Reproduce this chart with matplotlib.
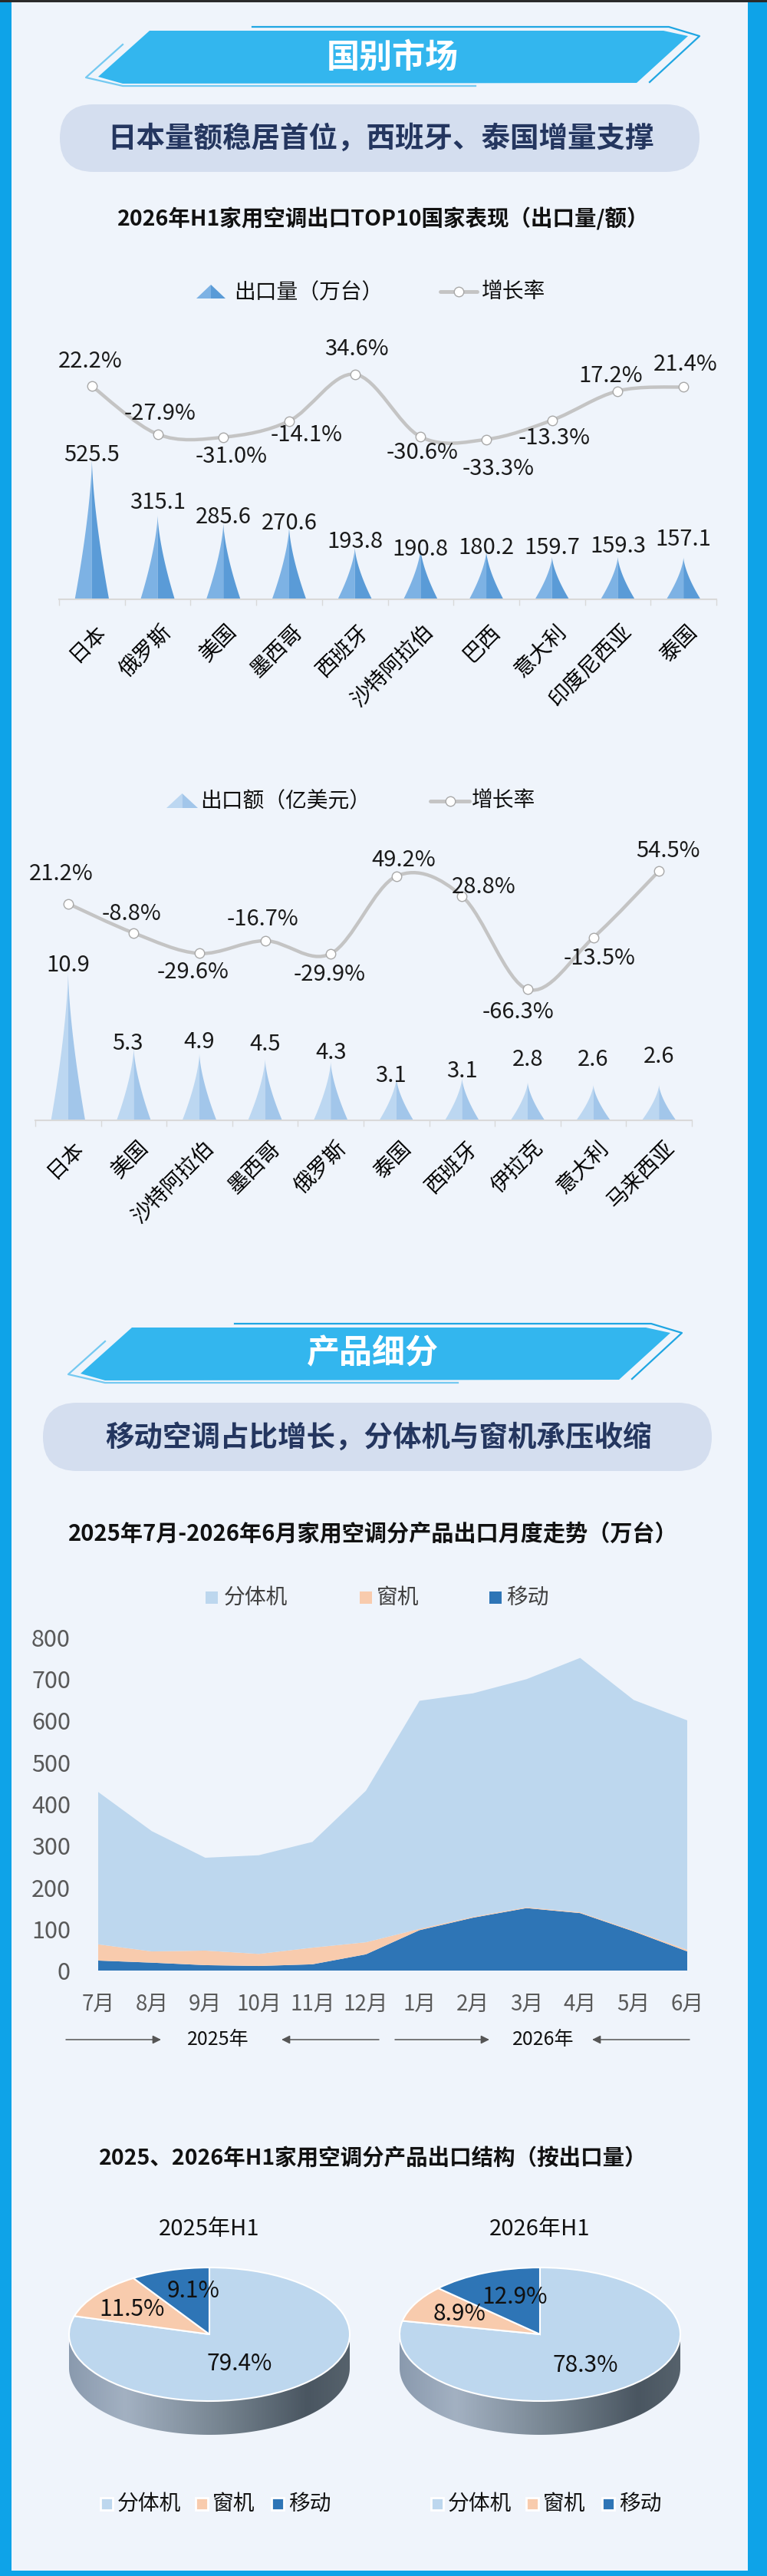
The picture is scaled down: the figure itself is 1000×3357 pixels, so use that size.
import numpy as np
import matplotlib
matplotlib.use("Agg")
import matplotlib.pyplot as plt
from matplotlib.path import Path
from matplotlib.patches import Polygon, FancyBboxPatch, Rectangle, PathPatch
from matplotlib.colors import LinearSegmentedColormap
from matplotlib.transforms import ScaledTranslation

plt.rcParams['font.family'] = ['Noto Sans CJK SC', 'DejaVu Sans']

#%% data
vol_countries = ['日本', '俄罗斯', '美国', '墨西哥', '西班牙', '沙特阿拉伯', '巴西', '意大利', '印度尼西亚', '泰国']
vol_values = [525.5, 315.1, 285.6, 270.6, 193.8, 190.8, 180.2, 159.7, 159.3, 157.1]
vol_growth = [22.2, -27.9, -31.0, -14.1, 34.6, -30.6, -33.3, -13.3, 17.2, 21.4]

val_countries = ['日本', '美国', '沙特阿拉伯', '墨西哥', '俄罗斯', '泰国', '西班牙', '伊拉克', '意大利', '马来西亚']
val_values = [10.9, 5.3, 4.9, 4.5, 4.3, 3.1, 3.1, 2.8, 2.6, 2.6]
val_growth = [21.2, -8.8, -29.6, -16.7, -29.9, 49.2, 28.8, -66.3, -13.5, 54.5]

months = ['7月', '8月', '9月', '10月', '11月', '12月', '1月', '2月', '3月', '4月', '5月', '6月']
split_units = [366, 289, 223, 237, 254, 364, 548, 537, 548, 611, 554, 551]
window_units = [39, 27, 35, 29, 40, 29, 3, 2, 2, 2, 2, 4]
portable_units = [24, 19, 13, 11, 15, 39, 97, 127, 150, 138, 94, 46]

product_names = ['分体机', '窗机', '移动']
share_2025 = [79.4, 11.5, 9.1]
share_2026 = [78.3, 8.9, 12.9]

#%% style
BG = '#eff4fb'
BORDER = '#0ea3e8'
NAVY = '#24365f'
LINE = '#c4c4c4'
C_SPLIT, C_WIN, C_MOB = '#bdd7ee', '#f8cbad', '#2e75b6'
PYR1 = ('#7db2e4', '#5a9bd7')
PYR2 = ('#bcd7f1', '#a2c6ea')

W, H = 1000, 3357
fig = plt.figure(figsize=(W / 100, H / 100), dpi=100)
fig.patch.set_facecolor(BORDER)


def px_axes(x0, y0, x1, y1, z=1):
    ax = fig.add_axes([x0 / W, 1 - y1 / H, (x1 - x0) / W, (y1 - y0) / H], zorder=z)
    ax.set_facecolor('none')
    return ax


ax0 = fig.add_axes([0, 0, 1, 1], zorder=0)
ax0.set_xlim(0, W)
ax0.set_ylim(H, 0)
ax0.axis('off')
ax0.add_patch(Rectangle((15, 3), 960, 3347, fc=BG, ec='none'))
ax0.add_patch(Rectangle((0, 0), W, 3, fc='#2b2b2b', ec='none'))


def banner(dx, dy, text, tx, ty):
    fill = [(195, 40), (865, 40), (897, 47), (830, 108), (160, 109), (128, 100)]
    ax0.add_patch(Polygon([(x + dx, y + dy) for x, y in fill], closed=True, fc='#33b6ee', ec='none'))
    top = np.array([(329, 35), (872, 35), (912, 47), (847, 107)]) + [dx, dy]
    ax0.plot(top[:, 0], top[:, 1], color='#1fa6e2', lw=1.6)
    chev = np.array([(160, 58), (112, 101), (160, 112), (620, 112)]) + [dx, dy]
    ax0.plot(chev[:, 0], chev[:, 1], color='#74c9f1', lw=1.6)
    ax0.text(tx, ty, text, color='white', fontsize=31, fontweight='bold', ha='center', va='center')


def pill(x0, y0, x1, y1, text, tx, ty):
    r = (y1 - y0) / 2
    ax0.add_patch(FancyBboxPatch((x0, y0), x1 - x0, y1 - y0,
                                 boxstyle=f'round,pad=0,rounding_size={r}', fc='#d4deef', ec='none'))
    ax0.text(tx, ty, text, color=NAVY, fontsize=27, fontweight='bold', ha='center', va='center')


def pyramid(ax, xc, h, half_w, colors, p=1.5):
    t = np.linspace(0, 1, 60)
    w = half_w * (1 - t) ** p
    y = t * h
    ax.fill(np.r_[xc - w, xc, xc], np.r_[y, h, 0], color=colors[0], lw=0)
    ax.fill(np.r_[xc + w, xc, xc], np.r_[y, h, 0], color=colors[1], lw=0)


def smooth_path(xs, ys):
    pts = np.column_stack([xs, ys]).astype(float)
    n = len(pts)
    verts, codes = [pts[0]], [Path.MOVETO]
    for i in range(n - 1):
        p0 = pts[i - 1] if i > 0 else pts[i]
        p1, p2 = pts[i], pts[i + 1]
        p3 = pts[i + 2] if i + 2 < n else pts[i + 1]
        verts += [p1 + (p2 - p0) / 6, p2 - (p3 - p1) / 6, p2]
        codes += [Path.CURVE4] * 3
    return Path(verts, codes)


def legend_pyramid(x0, x1, ytop, ybot, colors):
    xm = (x0 + x1) / 2
    ax0.add_patch(Polygon([(x0, ybot), (xm, ytop), (xm, ybot)], fc=colors[0], ec='none'))
    ax0.add_patch(Polygon([(xm, ybot), (xm, ytop), (x1, ybot)], fc=colors[1], ec='none'))


def legend_line(x0, x1, y):
    ax0.plot([x0, x1], [y, y], color=LINE, lw=3.5, solid_capstyle='round')
    ax0.plot([(x0 + x1) / 2], [y], 'o', ms=9, mfc='white', mec='#a9a9a9', mew=1)


def pyramid_chart(box, cats, values, growth, px_per_unit, colors, val_off, gr_off, lab_shift):
    x0, y0, x1, y1 = box
    ax = px_axes(x0, y0, x1, y1)
    x = np.arange(len(cats))
    ax.set_xlim(-0.5, len(cats) - 0.5)
    ax.set_ylim(0, (y1 - y0) / px_per_unit)
    for xi, v in zip(x, values):
        pyramid(ax, xi, v, 0.26, colors)
    for xi, v, (dx, dy) in zip(x, values, val_off):
        ax.annotate(f'{v:.1f}', (xi, v), xytext=(dx * 0.72, -dy * 0.72), textcoords='offset points',
                    ha='center', va='center', fontsize=21, color='#1a1a1a')
    for s in ['top', 'left', 'right']:
        ax.spines[s].set_visible(False)
    ax.spines['bottom'].set_color('#d9d9d9')
    ax.spines['bottom'].set_linewidth(1.5)
    ax.set_yticks([])
    ax.set_xticks(x, cats, rotation=45, ha='right', rotation_mode='anchor', fontsize=20)
    ax.set_xticks(np.arange(-0.5, len(cats)), minor=True)
    ax.tick_params(axis='x', which='major', length=0, pad=lab_shift[1] * 0.72)
    ax.tick_params(axis='x', which='minor', length=6, color='#d9d9d9', width=1)
    for lbl in ax.get_xticklabels():
        lbl.set_transform(lbl.get_transform() + ScaledTranslation(lab_shift[0] / 100, 0, fig.dpi_scale_trans))

    axb = ax.twinx()
    axb.set_ylim(-200, 100)
    axb.axis('off')
    axb.add_patch(PathPatch(smooth_path(x, growth), fill=False, ec=LINE, lw=3.2, capstyle='round'))
    axb.plot(x, growth, 'o', ms=9, mfc='white', mec='#a9a9a9', mew=1, zorder=3)
    for xi, g, (dx, dy) in zip(x, growth, gr_off):
        axb.annotate(f'{g:.1f}%', (xi, g), xytext=(dx * 0.72, -dy * 0.72), textcoords='offset points',
                     ha='center', va='center', fontsize=21, color='#1a1a1a')
    return ax


#%% section 1
banner(0, 0, '国别市场', 512, 75)
pill(78, 136, 912, 224, '日本量额稳居首位，西班牙、泰国增量支撑', 496, 180)
ax0.text(500, 285, '2026年H1家用空调出口TOP10国家表现（出口量/额）', fontsize=20.5, fontweight='bold',
         ha='center', va='center', color='#111111')

legend_pyramid(256, 294, 371, 389, PYR1)
ax0.text(305, 381, '出口量（万台）', fontsize=20, ha='left', va='center', color='#111111')
legend_line(574, 622, 380)
ax0.text(628, 381, '增长率', fontsize=20, ha='left', va='center', color='#111111')

pyramid_chart((77, 406, 934, 781), vol_countries, vol_values, vol_growth, 0.347, PYR1,
              val_off=[(0, -6), (0, -17), (0, -8), (0, -5), (0, -8), (0, 1), (0, -4), (0, -12), (0, -14), (0, -23)],
              gr_off=[(-2, -32), (3, -27), (10, 25), (23, 18), (2, -33), (2, 21), (16, 38), (3, 23), (-9, -19), (3, -29)],
              lab_shift=(3, 27))

legend_pyramid(217, 258, 1034, 1053, PYR2)
ax0.text(261, 1044, '出口额（亿美元）', fontsize=20, ha='left', va='center', color='#111111')
legend_line(561, 612, 1044)
ax0.text(615, 1044, '增长率', fontsize=20, ha='left', va='center', color='#111111')

pyramid_chart((46, 1077, 902, 1460), val_countries, val_values, val_growth, 17.7, PYR2,
              val_off=[(0, -9), (-8, -6), (0, -15), (0, -19), (0, -12), (-7, -3), (0, -9), (0, -29), (0, -33), (0, -37)],
              gr_off=[(-9, -39), (-3, -25), (-8, 25), (-3, -28), (-2, 27), (9, -21), (28, -12), (-13, 30), (8, 27), (12, -26)],
              lab_shift=(5, 21))

#%% section 2
banner(-23, 1690, '产品细分', 486, 1763)
pill(56, 1828, 928, 1917, '移动空调占比增长，分体机与窗机承压收缩', 494, 1873)
ax0.text(486, 1998, '2025年7月-2026年6月家用空调分产品出口月度走势（万台）', fontsize=21, fontweight='bold',
         ha='center', va='center', color='#111111')

for (sx, tx), name, col in zip([(268, 292), (469, 491), (638, 660)], product_names, [C_SPLIT, C_WIN, C_MOB]):
    ax0.add_patch(Rectangle((sx, 2074), 16, 16, fc=col, ec='none'))
    ax0.text(tx, 2082, name, fontsize=20, ha='left', va='center', color='#404040')

ax3 = px_axes(128, 2134, 896, 2568)
xm = np.arange(len(months))
ax3.stackplot(xm, portable_units, window_units, split_units, colors=[C_MOB, C_WIN, C_SPLIT], lw=0)
ax3.set_xlim(0, len(months) - 1)
ax3.set_ylim(0, 800)
ax3.set_yticks(range(0, 801, 100))
ax3.set_xticks(xm, months)
ax3.tick_params(axis='y', length=0, pad=26, labelsize=22, labelcolor='#595959')
ax3.tick_params(axis='x', length=0, pad=21, labelsize=20, labelcolor='#595959')
for s in ax3.spines.values():
    s.set_visible(False)

arrow_kw = dict(arrowstyle='-|>', color='#555555', lw=1.1, mutation_scale=16, shrinkA=0, shrinkB=0)
ax0.annotate('', xy=(210, 2658), xytext=(86, 2658), arrowprops=arrow_kw)
ax0.annotate('', xy=(367, 2658), xytext=(494, 2658), arrowprops=arrow_kw)
ax0.annotate('', xy=(638, 2658), xytext=(515, 2658), arrowprops=arrow_kw)
ax0.annotate('', xy=(772, 2658), xytext=(899, 2658), arrowprops=arrow_kw)
ax0.text(284, 2658, '2025年', fontsize=18, ha='center', va='center', color='#111111')
ax0.text(708, 2658, '2026年', fontsize=18, ha='center', va='center', color='#111111')

#%% pies
ax0.text(486, 2813, '2025、2026年H1家用空调分产品出口结构（按出口量）', fontsize=20.5, fontweight='bold',
         ha='center', va='center', color='#111111')

side_cmap = LinearSegmentedColormap.from_list(
    'side', [(0, '#8a9aae'), (0.2, '#a3b1c2'), (0.55, '#75838f'), (0.85, '#4a5661'), (1, '#56626c')])


def pie3d(cx, cy, shares, title, label_pos):
    rx, ry, depth = 183, 87, 44
    d = depth / ry
    ax = px_axes(cx - 1.04 * rx, cy - 1.06 * ry, cx + 1.04 * rx, cy + (1 + d + 0.06) * ry)
    ax.pie(shares, colors=[C_SPLIT, C_WIN, C_MOB], startangle=90, counterclock=False,
           wedgeprops=dict(edgecolor='white', linewidth=1.5))
    t = np.linspace(np.pi, 2 * np.pi, 120)
    verts = np.r_[np.c_[np.cos(t), np.sin(t)], np.c_[np.cos(t[::-1]), np.sin(t[::-1]) - d]]
    side = Polygon(verts, closed=True, fc='none', ec='none')
    ax.add_patch(side)
    im = ax.imshow(np.linspace(0, 1, 256).reshape(1, -1), extent=(-1, 1, -1 - d, 0),
                   cmap=side_cmap, aspect='auto', zorder=0)
    im.set_clip_path(side)
    for (lx, ly), v in zip(label_pos, shares):
        ax.text(lx, ly, f'{v:.1f}%', fontsize=21.5, ha='center', va='center', color='#111111')
    ax.set_aspect('auto')
    ax.set_xlim(-1.04, 1.04)
    ax.set_ylim(-(1 + d + 0.06), 1.06)
    ax.axis('off')
    ax0.text(cx, 2905, title, fontsize=21, ha='center', va='center', color='#111111')
    # legend under each pie
    for i, (name, col) in enumerate(zip(product_names, [C_SPLIT, C_WIN, C_MOB])):
        sx = cx - 142 + [0, 124, 223][i]
        ax0.add_patch(Rectangle((sx, 3255), 16, 16, fc=col, ec='white', lw=2))
        ax0.text(sx + 22, 3263, name, fontsize=20, ha='left', va='center', color='#111111')


pie3d(273, 3042, share_2025, '2025年H1', [(0.213, -0.437), (-0.55, 0.37), (-0.115, 0.655)])
pie3d(704, 3042, share_2026, '2026年H1', [(0.326, -0.46), (-0.576, 0.31), (-0.18, 0.56)])

fig.savefig('out.png', dpi=100, facecolor=fig.get_facecolor())
